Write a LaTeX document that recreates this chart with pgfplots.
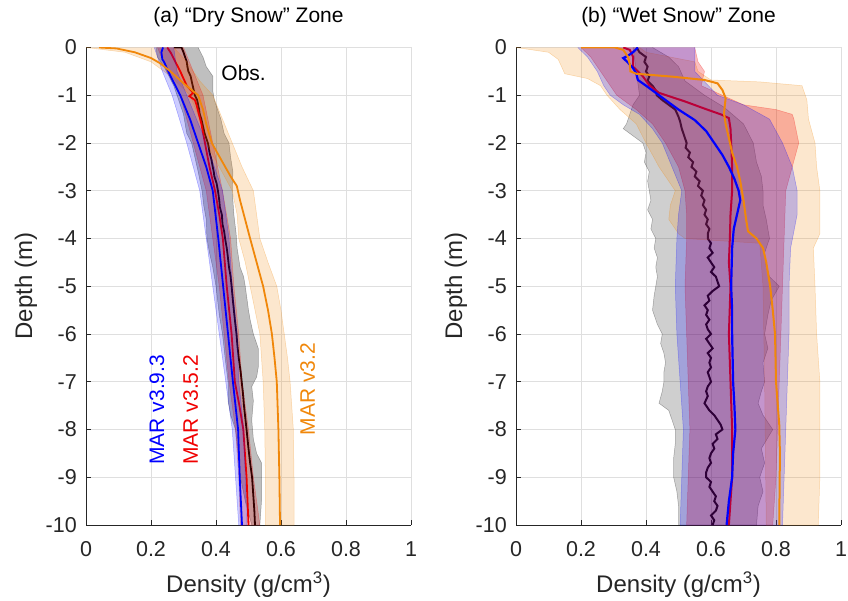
\documentclass[border=0pt]{standalone}
\usepackage{fontspec}
\setmainfont{Liberation Sans}
\usepackage{pgfplots}
\pgfplotsset{compat=1.18}
\definecolor{axgray}{RGB}{38,38,38}
\definecolor{gridgray}{RGB}{223,223,223}
\definecolor{morange}{RGB}{240,135,10}
\definecolor{mblue}{RGB}{0,0,255}
\definecolor{mred}{RGB}{240,0,0}
\pgfplotsset{
  myax/.style={
    width=325pt,height=477.5pt,scale only axis,
    xmin=0,xmax=1,ymin=-10,ymax=0,
    axis x line*=bottom, axis y line*=left,
    axis line style={-,draw=axgray,line width=0.8pt},
    grid=major, grid style={draw=gridgray,line width=0.7pt},
    tick align=inside, major tick length=5pt,
    tick style={draw=axgray,line width=0.8pt},
    xtick={0,0.2,0.4,0.6,0.8,1}, xticklabels={0,0.2,0.4,0.6,0.8,1},
    ytick={-10,-9,-8,-7,-6,-5,-4,-3,-2,-1,0},
    yticklabels={-10,-9,-8,-7,-6,-5,-4,-3,-2,-1,0},
    tick label style={font=\fontsize{21.5}{24}\selectfont, text=axgray},
    xticklabel style={anchor=base, inner sep=0pt, yshift=-31pt},
    yticklabel style={anchor=east, inner sep=0pt, xshift=-9pt},
    label style={font=\fontsize{24}{28}\selectfont, text=axgray},
    xlabel style={at={(axis description cs:0.5,-0.1424)}, anchor=base},
    ylabel style={at={(axis description cs:-0.166,0.5)}, anchor=base},
    title style={font=\fontsize{21}{25}\selectfont, text=black, at={(axis description cs:0.5,1.0398)}, anchor=base},
    xlabel={Density (g/cm\textsuperscript{3})}, ylabel={Depth (m)},
  },
  band/.style={draw=#1, draw opacity=0.3, line width=0.5pt, fill=#1},
}
\begin{document}
\begin{tikzpicture}[x=1pt,y=1pt]
% ---------------- (a) Dry snow zone
\begin{axis}[myax, at={(86pt,75pt)}, anchor=south west, title={(a) “Dry Snow” Zone}]
% obs band
\addplot[band=black, fill opacity=0.25] coordinates {
(0.215,0) (0.22,-0.2) (0.24,-0.4) (0.255,-0.6) (0.27,-0.8) (0.28,-1.0) (0.29,-1.2) (0.30,-1.4) (0.305,-1.6) (0.31,-1.8) (0.325,-2.0) (0.335,-2.3) (0.345,-2.6) (0.357,-3.0) (0.362,-3.3) (0.37,-3.6) (0.372,-4.0) (0.38,-4.3) (0.39,-4.6) (0.40,-5.0) (0.405,-5.3) (0.41,-5.6) (0.42,-6.0) (0.428,-6.5) (0.437,-7.0) (0.437,-7.4) (0.445,-7.7) (0.46,-8.0) (0.468,-8.5) (0.475,-9.0) (0.49,-9.5) (0.51,-10)
(0.535,-10) (0.54,-9.5) (0.54,-9.0) (0.54,-8.7) (0.525,-8.5) (0.515,-8.2) (0.51,-7.8) (0.515,-7.4) (0.51,-7.1) (0.525,-6.9) (0.53,-6.7) (0.53,-6.3) (0.515,-6.0) (0.505,-5.7) (0.50,-5.5) (0.49,-5.0) (0.485,-4.8) (0.474,-4.6) (0.465,-4.2) (0.462,-3.9) (0.455,-3.5) (0.452,-3.2) (0.45,-3.0) (0.452,-2.6) (0.445,-2.3) (0.44,-2.0) (0.425,-1.8) (0.415,-1.5) (0.405,-1.3) (0.395,-1.1) (0.39,-0.9) (0.39,-0.6) (0.37,-0.4) (0.36,-0.2) (0.345,0)};
% obs line
\addplot[black, line width=1.8pt] coordinates {
(0.27,0) (0.294,0) (0.30,-0.1) (0.305,-0.2) (0.31,-0.3) (0.312,-0.4) (0.315,-0.5) (0.322,-0.6) (0.325,-0.7) (0.33,-0.85) (0.335,-1.0) (0.342,-1.1) (0.345,-1.2) (0.348,-1.3) (0.35,-1.4) (0.355,-1.5) (0.36,-1.65) (0.365,-1.8) (0.37,-1.9) (0.375,-2.0) (0.378,-2.1) (0.38,-2.2) (0.386,-2.35) (0.39,-2.5) (0.393,-2.6) (0.395,-2.7) (0.402,-2.85) (0.406,-3.0) (0.41,-3.2) (0.412,-3.35) (0.418,-3.5) (0.42,-3.7) (0.425,-3.85) (0.428,-4.0) (0.433,-4.2) (0.435,-4.3) (0.44,-4.6) (0.445,-4.8) (0.448,-5.0) (0.452,-5.3) (0.455,-5.5) (0.458,-5.7) (0.463,-6.0) (0.466,-6.25) (0.47,-6.5) (0.476,-6.8) (0.479,-7.0) (0.483,-7.25) (0.486,-7.5) (0.49,-7.75) (0.494,-8.0) (0.50,-8.4) (0.505,-8.7) (0.511,-9.0) (0.515,-9.4) (0.518,-9.7) (0.52,-10)};
% orange band
\addplot[band=morange, fill opacity=0.2] coordinates {
(0.0,0) (0.12,-0.1) (0.2,-0.3) (0.26,-0.6) (0.32,-1.0) (0.35,-1.5) (0.37,-2.0) (0.41,-2.5) (0.45,-3.0) (0.465,-3.5) (0.47,-4.0) (0.49,-4.5) (0.505,-5.0) (0.52,-5.5) (0.535,-6.0) (0.54,-6.5) (0.545,-7.0) (0.55,-8.0) (0.552,-9.0) (0.552,-10)
(0.64,-10) (0.64,-9.0) (0.638,-8.0) (0.628,-7.0) (0.62,-6.5) (0.61,-6.0) (0.60,-5.5) (0.587,-5.0) (0.56,-4.5) (0.535,-4.0) (0.525,-3.5) (0.515,-3.0) (0.48,-2.5) (0.45,-2.0) (0.42,-1.5) (0.39,-1.0) (0.35,-0.7) (0.31,-0.3) (0.27,0)};
% red band
\addplot[band=mred, fill opacity=0.22] coordinates {
(0.22,0) (0.25,-0.5) (0.29,-1.0) (0.33,-2.0) (0.37,-3.0) (0.39,-4.0) (0.41,-5.0) (0.425,-6.0) (0.44,-7.0) (0.46,-8.0) (0.47,-9.0) (0.475,-10)
(0.535,-10) (0.515,-9.0) (0.50,-8.0) (0.48,-7.0) (0.47,-6.0) (0.455,-5.0) (0.445,-4.0) (0.42,-3.0) (0.39,-2.0) (0.36,-1.0) (0.33,-0.5) (0.30,0)};
% red line
\addplot[mred, line width=1.8pt] coordinates {
(0.25,0) (0.26,-0.1) (0.275,-0.3) (0.29,-0.5) (0.31,-0.8) (0.33,-0.95) (0.318,-1.02) (0.335,-1.1) (0.34,-1.2) (0.355,-1.6) (0.366,-2.0) (0.38,-2.5) (0.397,-3.0) (0.41,-3.5) (0.421,-4.0) (0.433,-5.0) (0.448,-6.0) (0.458,-7.0) (0.472,-7.5) (0.484,-8.0) (0.494,-9.0) (0.50,-10)};
% blue band
\addplot[band=mblue, fill opacity=0.2] coordinates {
(0.21,0) (0.235,-0.5) (0.265,-1.0) (0.31,-2.0) (0.35,-3.0) (0.37,-4.0) (0.39,-5.0) (0.41,-6.0) (0.43,-7.0) (0.45,-8.0) (0.46,-9.0) (0.47,-10)
(0.495,-10) (0.49,-9.0) (0.486,-8.0) (0.47,-7.0) (0.465,-6.0) (0.45,-5.0) (0.44,-4.0) (0.42,-3.0) (0.37,-2.0) (0.31,-1.0) (0.28,-0.5) (0.27,0)};
% blue line
\addplot[mblue, line width=1.8pt] coordinates {
(0.237,0) (0.232,-0.1) (0.235,-0.25) (0.24,-0.3) (0.26,-0.6) (0.29,-1.0) (0.32,-1.5) (0.345,-2.0) (0.37,-2.5) (0.39,-3.0) (0.407,-4.0) (0.422,-5.0) (0.437,-6.0) (0.452,-7.0) (0.468,-8.0) (0.473,-9.0) (0.48,-10)};
% orange line
\addplot[morange, line width=1.8pt] coordinates {
(0.04,0) (0.094,-0.02) (0.15,-0.1) (0.2,-0.22) (0.228,-0.33) (0.26,-0.5) (0.3,-0.75) (0.345,-1.0) (0.36,-1.3) (0.37,-1.6) (0.387,-2.0) (0.42,-2.4) (0.445,-2.7) (0.464,-2.9) (0.474,-3.2) (0.505,-4.0) (0.525,-4.5) (0.545,-5.0) (0.56,-5.5) (0.572,-6.0) (0.58,-6.5) (0.587,-7.0) (0.592,-8.0) (0.595,-9.0) (0.597,-10)};
\node[font=\fontsize{21}{24}\selectfont] at (axis cs:0.485,-0.53) {Obs.};
\node[rotate=90, anchor=west, inner sep=0pt, text=mblue, font=\fontsize{21}{24}\selectfont] at (axis cs:0.218,-8.74) {MAR v3.9.3};
\node[rotate=90, anchor=west, inner sep=0pt, text=mred, font=\fontsize{21}{24}\selectfont] at (axis cs:0.322,-8.74) {MAR v3.5.2};
\node[rotate=90, anchor=west, inner sep=0pt, text=morange, font=\fontsize{21}{24}\selectfont] at (axis cs:0.682,-8.12) {MAR v3.2};
\end{axis}
% ---------------- (b) Wet snow zone
\begin{axis}[myax, at={(516pt,75pt)}, anchor=south west, title={(b) “Wet Snow” Zone}]
% obs band
\addplot[band=black, fill opacity=0.19] coordinates {
(0.36,0) (0.37,-0.5) (0.38,-1.0) (0.36,-1.2) (0.35,-1.4) (0.34,-1.6) (0.33,-1.7) (0.35,-1.8) (0.37,-1.9) (0.39,-2.0) (0.40,-2.2) (0.395,-2.4) (0.41,-2.6) (0.405,-2.8) (0.41,-3.0) (0.415,-3.2) (0.405,-3.4) (0.42,-3.6) (0.415,-3.8) (0.43,-4.0) (0.425,-4.2) (0.435,-4.4) (0.43,-4.6) (0.435,-4.8) (0.43,-5.0) (0.425,-5.2) (0.42,-5.5) (0.435,-5.8) (0.45,-6.0) (0.445,-6.2) (0.455,-6.4) (0.46,-6.6) (0.455,-6.8) (0.455,-7.0) (0.45,-7.2) (0.44,-7.45) (0.47,-7.6) (0.48,-7.8) (0.49,-8.0) (0.49,-8.3) (0.485,-8.6) (0.485,-9.0) (0.495,-9.3) (0.50,-9.6) (0.50,-10)
(0.74,-10) (0.745,-9.6) (0.76,-9.3) (0.75,-9.0) (0.765,-8.7) (0.755,-8.4) (0.79,-8.0) (0.76,-7.7) (0.745,-7.45) (0.755,-7.2) (0.765,-7.0) (0.76,-6.6) (0.775,-6.3) (0.765,-6.0) (0.775,-5.6) (0.785,-5.3) (0.81,-5.0) (0.78,-4.8) (0.77,-4.6) (0.765,-4.3) (0.78,-4.0) (0.77,-3.6) (0.76,-3.3) (0.76,-3.0) (0.755,-2.7) (0.74,-2.4) (0.73,-2.0) (0.70,-1.6) (0.64,-1.25) (0.58,-1.0) (0.52,-0.7) (0.50,-0.4) (0.47,-0.2) (0.42,0)};
% obs line
\addplot[black, line width=2pt] coordinates {
(0.371,0) (0.38,-0.1) (0.40,-0.2) (0.395,-0.3) (0.405,-0.4) (0.40,-0.5) (0.41,-0.6) (0.405,-0.7) (0.42,-0.8) (0.43,-0.9) (0.433,-1.0) (0.45,-1.1) (0.47,-1.2) (0.49,-1.3) (0.50,-1.45) (0.505,-1.55) (0.51,-1.7) (0.515,-1.8) (0.52,-1.9) (0.525,-2.0) (0.522,-2.1) (0.535,-2.2) (0.53,-2.3) (0.545,-2.4) (0.54,-2.5) (0.555,-2.6) (0.55,-2.7) (0.565,-2.8) (0.56,-2.9) (0.575,-3.0) (0.57,-3.1) (0.58,-3.2) (0.575,-3.3) (0.585,-3.4) (0.58,-3.5) (0.59,-3.6) (0.585,-3.7) (0.595,-3.8) (0.59,-3.9) (0.59,-4.0) (0.60,-4.1) (0.595,-4.2) (0.605,-4.3) (0.59,-4.4) (0.6,-4.5) (0.61,-4.6) (0.60,-4.7) (0.615,-4.8) (0.62,-4.9) (0.625,-5.0) (0.605,-5.1) (0.59,-5.2) (0.595,-5.3) (0.58,-5.4) (0.59,-5.5) (0.585,-5.6) (0.595,-5.7) (0.585,-5.8) (0.59,-5.9) (0.60,-6.0) (0.585,-6.1) (0.595,-6.2) (0.605,-6.3) (0.59,-6.4) (0.6,-6.5) (0.595,-6.6) (0.6,-6.7) (0.59,-6.8) (0.595,-6.9) (0.60,-7.0) (0.59,-7.1) (0.585,-7.2) (0.59,-7.3) (0.58,-7.45) (0.595,-7.6) (0.61,-7.7) (0.62,-7.8) (0.63,-7.9) (0.635,-8.0) (0.615,-8.1) (0.62,-8.2) (0.605,-8.3) (0.61,-8.4) (0.60,-8.5) (0.595,-8.6) (0.60,-8.7) (0.59,-8.8) (0.585,-8.9) (0.585,-9.0) (0.60,-9.1) (0.595,-9.2) (0.605,-9.3) (0.615,-9.4) (0.61,-9.5) (0.62,-9.6) (0.615,-9.7) (0.60,-9.8) (0.61,-9.9) (0.605,-10)};
% orange band
\addplot[band=morange, fill opacity=0.2] coordinates {
(0.0,0) (0.1,-0.1) (0.13,-0.25) (0.14,-0.4) (0.15,-0.55) (0.22,-0.65) (0.26,-0.8) (0.28,-1.0) (0.32,-1.3) (0.37,-1.6) (0.40,-2.0) (0.44,-2.5) (0.49,-3.0) (0.475,-3.3) (0.47,-3.6) (0.50,-3.9) (0.52,-4.0) (0.75,-4.1) (0.76,-5.0) (0.765,-7.0) (0.77,-10)
(0.93,-10) (0.935,-9.0) (0.935,-8.0) (0.935,-7.0) (0.925,-6.0) (0.92,-5.0) (0.915,-4.2) (0.935,-3.9) (0.935,-3.0) (0.925,-2.5) (0.92,-2.0) (0.90,-1.5) (0.895,-1.1) (0.88,-0.8) (0.75,-0.72) (0.60,-0.68) (0.56,-0.5) (0.55,-0.3) (0.40,-0.1) (0.38,0)};
% red band
\addplot[band=mred, fill opacity=0.25] coordinates {
(0.20,0) (0.23,-0.2) (0.26,-0.5) (0.29,-0.8) (0.31,-1.0) (0.37,-1.3) (0.42,-1.6) (0.46,-2.0) (0.50,-2.5) (0.52,-3.0) (0.525,-3.5) (0.525,-4.0) (0.52,-5.0) (0.525,-6.0) (0.53,-7.0) (0.535,-8.0) (0.53,-9.0) (0.525,-10)
(0.79,-10) (0.80,-9.0) (0.805,-8.0) (0.81,-7.0) (0.815,-6.0) (0.82,-5.0) (0.825,-4.0) (0.83,-3.0) (0.85,-2.5) (0.87,-2.0) (0.855,-1.5) (0.85,-1.4) (0.80,-1.3) (0.70,-1.2) (0.57,-0.8) (0.58,-0.5) (0.56,-0.3) (0.55,0)};
% red line
\addplot[mred, line width=2pt] coordinates {
(0.33,0) (0.35,-0.05) (0.36,-0.19) (0.36,-0.4) (0.39,-0.6) (0.41,-0.79) (0.44,-0.95) (0.52,-1.13) (0.58,-1.28) (0.634,-1.41) (0.655,-1.48) (0.66,-1.7) (0.662,-2.0) (0.665,-2.5) (0.665,-3.0) (0.66,-3.5) (0.658,-4.0) (0.655,-4.5) (0.66,-5.0) (0.655,-6.0) (0.66,-7.0) (0.665,-8.0) (0.665,-9.0) (0.655,-10)};
% blue band
\addplot[band=mblue, fill opacity=0.22] coordinates {
(0.19,0) (0.22,-0.2) (0.25,-0.5) (0.27,-0.8) (0.29,-1.0) (0.33,-1.2) (0.38,-1.4) (0.42,-1.7) (0.45,-2.0) (0.48,-2.5) (0.51,-3.0) (0.50,-3.5) (0.495,-4.0) (0.49,-5.0) (0.495,-6.0) (0.505,-7.0) (0.515,-8.0) (0.51,-9.0) (0.505,-10)
(0.82,-10) (0.825,-9.0) (0.83,-8.0) (0.835,-7.0) (0.84,-6.0) (0.84,-5.0) (0.845,-4.2) (0.865,-3.5) (0.865,-3.0) (0.85,-2.5) (0.82,-2.0) (0.78,-1.5) (0.70,-1.2) (0.62,-1.0) (0.55,-0.5) (0.55,0)};
% blue line
\addplot[mblue, line width=2.2pt] coordinates {
(0.375,0) (0.36,-0.1) (0.345,-0.17) (0.33,-0.22) (0.345,-0.32) (0.36,-0.43) (0.37,-0.55) (0.375,-0.68) (0.40,-0.8) (0.43,-0.95) (0.46,-1.1) (0.50,-1.3) (0.55,-1.52) (0.585,-1.75) (0.61,-2.0) (0.635,-2.25) (0.655,-2.5) (0.672,-2.75) (0.685,-3.0) (0.69,-3.2) (0.68,-3.5) (0.67,-3.8) (0.665,-4.2) (0.662,-5.0) (0.665,-5.5) (0.665,-6.0) (0.668,-7.0) (0.672,-7.5) (0.675,-8.0) (0.668,-8.5) (0.665,-9.0) (0.655,-9.5) (0.648,-10)};
% orange line
\addplot[morange, line width=2pt] coordinates {
(0.20,0) (0.305,0) (0.33,-0.05) (0.345,-0.2) (0.35,-0.35) (0.352,-0.5) (0.37,-0.55) (0.48,-0.61) (0.58,-0.68) (0.62,-0.75) (0.635,-0.89) (0.645,-1.06) (0.64,-1.38) (0.645,-1.6) (0.655,-1.9) (0.665,-2.2) (0.68,-2.5) (0.69,-2.8) (0.70,-3.2) (0.708,-3.6) (0.714,-3.85) (0.74,-4.0) (0.76,-4.2) (0.77,-4.5) (0.782,-5.0) (0.79,-5.5) (0.797,-6.0) (0.80,-7.0) (0.81,-7.9) (0.812,-8.5) (0.81,-10)};
\end{axis}
\pgfresetboundingbox
\path[use as bounding box] (0,0) rectangle (848pt,600pt);
\end{tikzpicture}
\end{document}
